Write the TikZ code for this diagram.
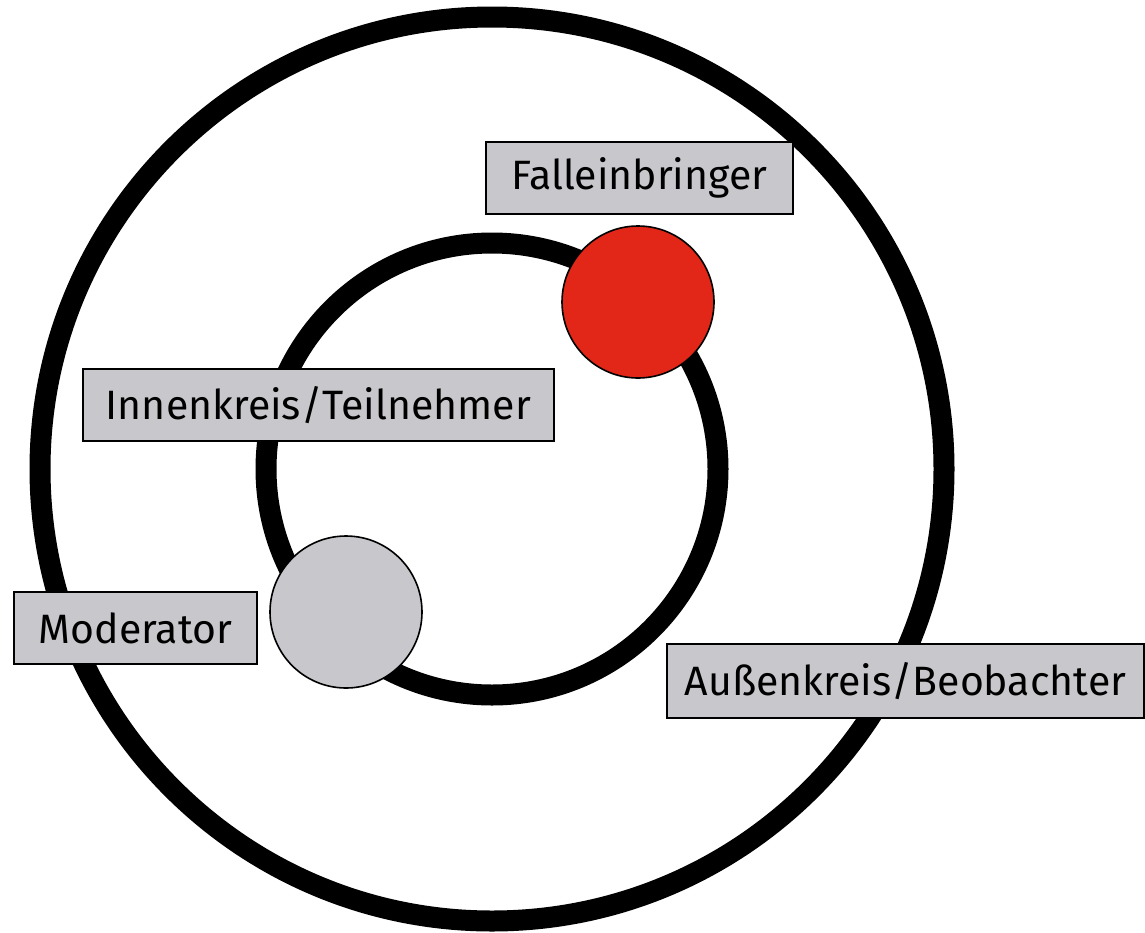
\documentclass[tikz,border=0pt]{standalone}
\usepackage{fontspec}
\setmainfont{Fira Sans}
\definecolor{boxgray}{HTML}{C8C7CC}
\definecolor{facred}{HTML}{E22718}
\begin{document}
\begin{tikzpicture}[x=1pt,y=-1pt,
  ring/.style={draw=black,line width=21pt},
  labelbox/.style={draw=black,fill=boxgray,line width=1.8pt,inner sep=0pt,font=\fontsize{41}{48}\selectfont,anchor=north west},
  person/.style={circle,draw=black,line width=1.6pt,inner sep=0pt,minimum size=152pt}]
\useasboundingbox (0,0) rectangle (1145,932);
\coordinate (c) at (492,469);
\draw[ring] (c) circle[radius=452];
\draw[ring] (c) circle[radius=226];
\node[person,fill=facred] (fall) at (638,302) {};
\node[person,fill=boxgray] (mod) at (346,612) {};
\node[labelbox,minimum width=307pt,minimum height=72pt] (lf) at (485,141) {Falleinbringer};
\node[labelbox,minimum width=471pt,minimum height=72pt] (li) at (82,368) {Innenkreis/Teilnehmer};
\node[labelbox,minimum width=243pt,minimum height=72pt] (lm) at (13,591) {Moderator};
\node[labelbox,minimum width=477pt,minimum height=74pt] (la) at (666,643) {Außenkreis/Beobachter};
\end{tikzpicture}
\end{document}
